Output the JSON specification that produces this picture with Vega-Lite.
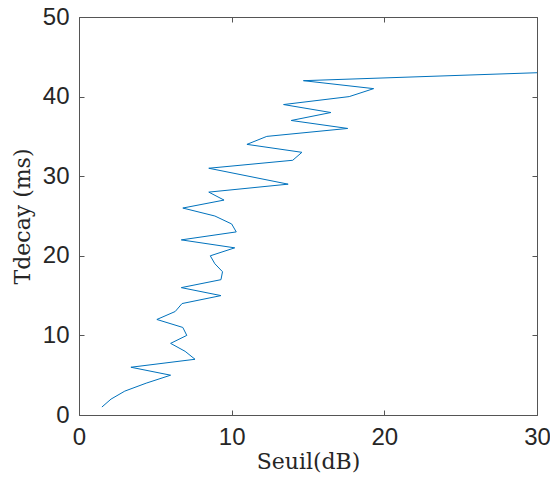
{
  "$schema": "https://vega.github.io/schema/vega-lite/v6.json",
  "autosize": "none",
  "width": 458,
  "height": 398,
  "padding": {"left": 79, "top": 17, "right": 13, "bottom": 67},
  "background": "white",
  "config": {
    "view": {"stroke": null},
    "axis": {
      "domainColor": "#555555",
      "tickColor": "#555555",
      "labelColor": "#262626",
      "titleColor": "#262626",
      "labelFont": "Liberation Sans",
      "labelFontSize": 24,
      "titleFont": "DejaVu Serif",
      "titleFontSize": 22,
      "titleFontWeight": "normal",
      "grid": false,
      "tickSize": -5,
      "domainWidth": 1,
      "tickWidth": 1,
      "labelFlush": false,
      "labelOverlap": false
    }
  },
  "data": {
    "values": [
      {"t": 1, "s": 1.5},
      {"t": 2, "s": 2.1},
      {"t": 3, "s": 3.0},
      {"t": 4, "s": 4.4},
      {"t": 5, "s": 6.0},
      {"t": 6, "s": 3.4},
      {"t": 7, "s": 7.6},
      {"t": 8, "s": 6.95},
      {"t": 9, "s": 6.0},
      {"t": 10, "s": 7.06},
      {"t": 11, "s": 6.8},
      {"t": 12, "s": 5.1},
      {"t": 13, "s": 6.3},
      {"t": 14, "s": 6.75},
      {"t": 15, "s": 9.3},
      {"t": 16, "s": 6.7},
      {"t": 17, "s": 9.3},
      {"t": 18, "s": 9.4},
      {"t": 19, "s": 8.9},
      {"t": 20, "s": 8.6},
      {"t": 21, "s": 10.2},
      {"t": 22, "s": 6.7},
      {"t": 23, "s": 10.3},
      {"t": 24, "s": 10.0},
      {"t": 25, "s": 8.9},
      {"t": 26, "s": 6.8},
      {"t": 27, "s": 9.5},
      {"t": 28, "s": 8.5},
      {"t": 29, "s": 13.7},
      {"t": 31, "s": 8.5},
      {"t": 32, "s": 14.0},
      {"t": 33, "s": 14.6},
      {"t": 34, "s": 11.0},
      {"t": 35, "s": 12.3},
      {"t": 36, "s": 17.6},
      {"t": 37, "s": 13.9},
      {"t": 38, "s": 16.5},
      {"t": 39, "s": 13.4},
      {"t": 40, "s": 17.7},
      {"t": 41, "s": 19.3},
      {"t": 42, "s": 14.7},
      {"t": 43, "s": 30.0}
    ]
  },
  "layer": [
    {
      "mark": {"type": "line", "color": "#0072BD", "strokeWidth": 1, "clip": true},
      "encoding": {
        "x": {
          "field": "s", "type": "quantitative",
          "scale": {"domain": [0, 30], "nice": false, "zero": false},
          "axis": {"values": [0, 10, 20, 30], "title": "Seuil(dB)", "labelPadding": 15, "titlePadding": 2}
        },
        "y": {
          "field": "t", "type": "quantitative",
          "scale": {"domain": [0, 50], "nice": false, "zero": false},
          "axis": {"values": [0, 10, 20, 30, 40, 50], "title": "Tdecay (ms)", "labelPadding": 15, "titlePadding": 8}
        },
        "order": {"field": "t", "type": "quantitative"}
      }
    },
    {
      "mark": {"type": "line", "opacity": 0},
      "encoding": {
        "x": {
          "field": "s", "type": "quantitative",
          "scale": {"domain": [0, 30], "nice": false, "zero": false},
          "axis": {"orient": "top", "values": [0, 10, 20, 30], "labels": false, "title": null}
        },
        "y": {
          "field": "t", "type": "quantitative",
          "scale": {"domain": [0, 50], "nice": false, "zero": false},
          "axis": {"orient": "right", "values": [0, 10, 20, 30, 40, 50], "labels": false, "title": null}
        },
        "order": {"field": "t", "type": "quantitative"}
      }
    }
  ],
  "resolve": {"axis": {"x": "independent", "y": "independent"}}
}
